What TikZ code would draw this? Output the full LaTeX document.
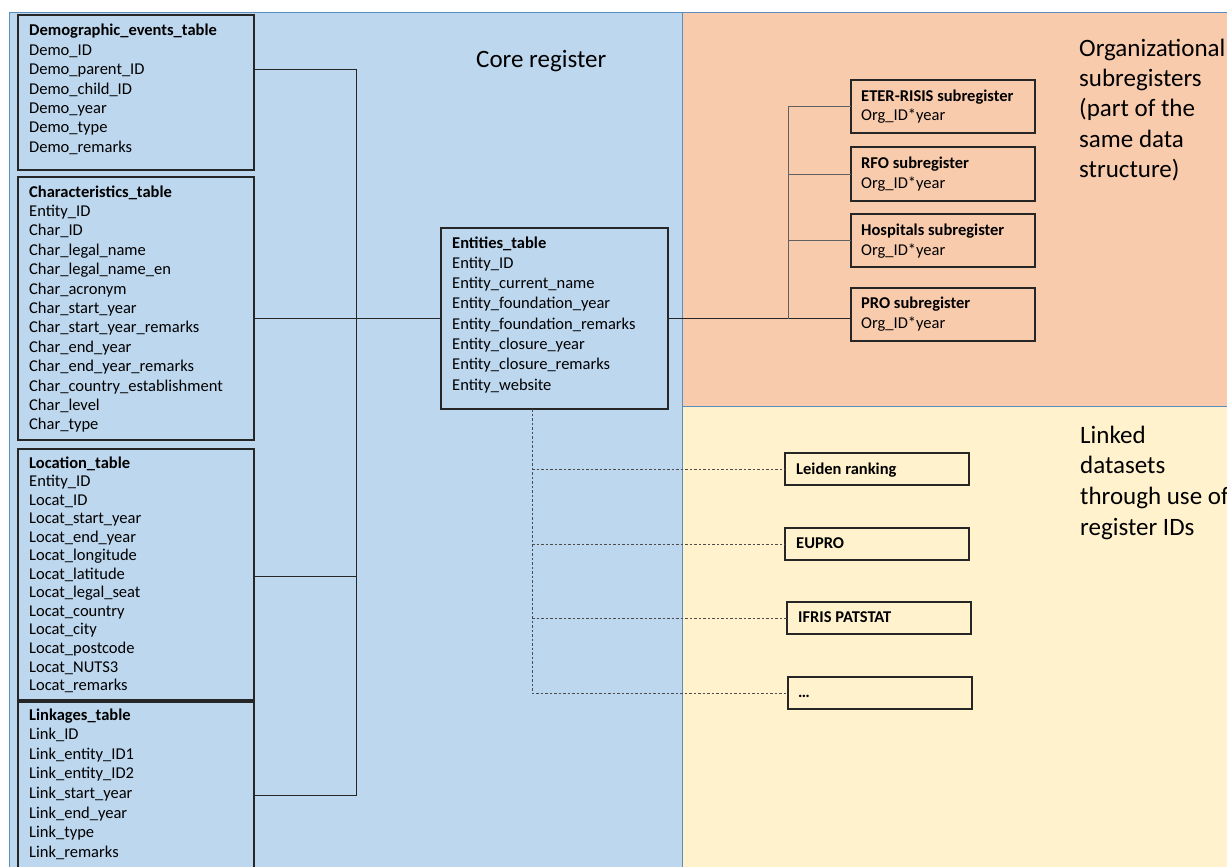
\documentclass[tikz,border=0pt]{standalone}
\usepackage{fontspec}
\setmainfont{Carlito}
\usetikzlibrary{calc}
\definecolor{coreblue}{HTML}{BDD7EE}
\definecolor{orgorange}{HTML}{F8CBAD}
\definecolor{linkyellow}{HTML}{FFF2CC}
\definecolor{panelline}{HTML}{5B8DBE}
\definecolor{boxline}{HTML}{262626}
\newcommand\fieldlist[5]{\foreach \fltext [count=\flidx from 0] in {#5}{\node[txt] (#1-\flidx) at (#2,{#3+\flidx*#4}) {\fltext};}}
\begin{document}
\begin{tikzpicture}[x=1pt,y=-1pt,
  box/.style={draw=boxline,line width=1.4pt,anchor=north west,inner sep=0pt,outer sep=0pt},
  txt/.style={anchor=base west,inner sep=0pt,font=\fontsize{16.5}{19}\selectfont},
  big/.style={anchor=base west,inner sep=0pt,font=\fontsize{25}{30}\selectfont},
  conn/.style={draw=boxline,line width=1pt},
  branch/.style={draw=gray!75!black,line width=1pt},
  dashconn/.style={draw=gray!60!black,line width=0.9pt,dash pattern=on 2.5pt off 2pt},
  panel/.style={draw=panelline,line width=1pt}]
\useasboundingbox (0,0) rectangle (1227,867);
\clip (0,0) rectangle (1227,867);
\fill[white] (0,0) rectangle (1227,867);
% panels
\path[panel,fill=coreblue] (9,13) rectangle (682,880);
\path[panel,fill=orgorange] (682,13) rectangle (1240,406);
\path[panel,fill=linkyellow] (682,406) rectangle (1240,880);
% panel labels
\node[big] (corelbl) at (476,68) {Core register};
\foreach \lbl [count=\li from 0] in {{Organizational},{subregisters},{(part of the},{same data},{structure)}}
  {\node[big] (orglbl-\li) at (1079,{57+\li*30}) {\lbl};}
\foreach \lbl [count=\li from 0] in {{Linked},{datasets},{through use of},{register IDs}}
  {\node[big] (linklbl-\li) at (1080,{443+\li*30.7}) {\lbl};}
% left tables
\node[box,minimum width=236pt,minimum height=155pt] (demo) at (18,15) {};
\node[box,minimum width=236pt,minimum height=263pt] (char) at (18,177) {};
\node[box,minimum width=236pt,minimum height=251pt] (loc) at (18,449) {};
\node[box,minimum width=236pt,minimum height=200pt] (link) at (18,702) {};
\fieldlist{demot}{29}{36}{19.35}{{\bfseries Demographic\_events\_table},Demo\_ID,Demo\_parent\_ID,Demo\_child\_ID,Demo\_year,Demo\_type,Demo\_remarks}
\fieldlist{chart}{29}{197}{19.4}{{\bfseries Characteristics\_table},Entity\_ID,Char\_ID,Char\_legal\_name,Char\_legal\_name\_en,Char\_acronym,Char\_start\_year,Char\_start\_year\_remarks,Char\_end\_year,Char\_end\_year\_remarks,Char\_country\_establishment,Char\_level,Char\_type}
\fieldlist{loct}{29}{468}{18.55}{{\bfseries Location\_table},Entity\_ID,Locat\_ID,Locat\_start\_year,Locat\_end\_year,Locat\_longitude,Locat\_latitude,Locat\_legal\_seat,Locat\_country,Locat\_city,Locat\_postcode,Locat\_NUTS3,Locat\_remarks}
\fieldlist{linkt}{29}{720}{19.6}{{\bfseries Linkages\_table},Link\_ID,Link\_entity\_ID1,Link\_entity\_ID2,Link\_start\_year,Link\_end\_year,Link\_type,Link\_remarks}
% entities
\node[box,minimum width=227pt,minimum height=181pt] (ent) at (441,228) {};
\fieldlist{entt}{452}{248}{20.3}{{\bfseries Entities\_table},Entity\_ID,Entity\_current\_name,Entity\_foundation\_year,Entity\_foundation\_remarks,Entity\_closure\_year,Entity\_closure\_remarks,Entity\_website}
% subregisters
\node[box,minimum width=184pt,minimum height=53pt] (eter) at (851,80) {};
\node[box,minimum width=184pt,minimum height=54pt] (rfo) at (851,147) {};
\node[box,minimum width=184pt,minimum height=53pt] (hosp) at (851,214) {};
\node[box,minimum width=184pt,minimum height=53pt] (pro) at (851,288) {};
\fieldlist{etert}{861}{101}{20}{{\bfseries ETER-RISIS subregister},Org\_ID*year}
\fieldlist{rfot}{861}{168}{20}{{\bfseries RFO subregister},Org\_ID*year}
\fieldlist{hospt}{861}{235}{20}{{\bfseries Hospitals subregister},Org\_ID*year}
\fieldlist{prot}{861}{308}{20}{{\bfseries PRO subregister},Org\_ID*year}
% linked datasets
\node[box,minimum width=184pt,minimum height=32pt] (leiden) at (785,453) {};
\node[box,minimum width=184pt,minimum height=32pt] (eupro) at (785,528) {};
\node[box,minimum width=184pt,minimum height=32pt] (ifris) at (787,602) {};
\node[box,minimum width=184pt,minimum height=32pt] (dots) at (788,677) {};
\node[txt] (leident) at (796,474) {\bfseries Leiden ranking};
\node[txt] (euprot) at (796,548) {\bfseries EUPRO};
\node[txt] (ifrist) at (798,622) {\bfseries IFRIS PATSTAT};
\node[txt] (dotst) at (798,697) {\bfseries …};
% left bus
\coordinate (busT) at (356,70);
\coordinate (busM) at (356,576);
\coordinate (busB) at (356,795);
\draw[conn] (demo.east |- busT) -- (busT) -- (busB) -- (link.east |- busB);
\draw[conn] (loc.east |- busM) -- (busM);
\draw[conn] (char.east |- ent.west) -- (ent.west);
% right tree
\coordinate (brx) at (788,0);
\draw[conn] (ent.east) -- (ent.east -| pro.west);
\draw[branch] (eter.west) -- (eter.west -| brx) -- (brx |- ent.east);
\draw[branch] (rfo.west) -- (rfo.west -| brx);
\draw[branch] (hosp.west) -- (hosp.west -| brx);
% dashed links
\coordinate (dvx) at (532,0);
\draw[dashconn] (ent.south -| dvx) -- (dvx |- dots.west) -- (dots.west);
\draw[dashconn] (dvx |- leiden.west) -- (leiden.west);
\draw[dashconn] (dvx |- eupro.west) -- (eupro.west);
\draw[dashconn] (dvx |- ifris.west) -- (ifris.west);
\end{tikzpicture}
\end{document}
